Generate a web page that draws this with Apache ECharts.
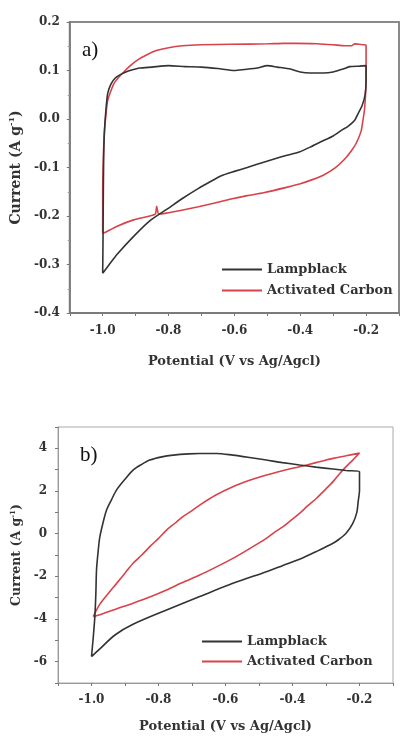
<!DOCTYPE html>
<html>
<head>
<meta charset="utf-8">
<script src="https://cdn.jsdelivr.net/npm/echarts@6/dist/echarts.min.js"></script>
<style>
html,body{margin:0;padding:0;background:#fff;}
#chart{width:402px;height:736px;}
</style>
</head>
<body>
<div id="chart"></div>
<script>
// ---- Data (panel a) ----
const seriesNames = ['Lampblack', 'Activated Carbon'];
const lampblackA = [
  [-1.0,-0.318],[-0.999,-0.25],[-0.998,-0.15],[-0.997,-0.08],[-0.995,-0.03],[-0.99,0.02],[-0.985,0.052],
  [-0.975,0.072],[-0.961,0.085],[-0.945,0.092],[-0.926,0.098],[-0.9,0.103],[-0.887,0.105],[-0.85,0.107],
  [-0.8,0.11],[-0.75,0.108],[-0.7,0.107],[-0.65,0.104],[-0.6,0.1],[-0.57,0.102],[-0.53,0.105],[-0.5,0.11],
  [-0.47,0.107],[-0.43,0.103],[-0.4,0.097],[-0.37,0.095],[-0.33,0.095],[-0.3,0.097],[-0.27,0.103],
  [-0.25,0.108],[-0.22,0.109],[-0.2,0.11],[-0.2,0.08],[-0.203,0.05],[-0.212,0.028],[-0.225,0.01],
  [-0.235,-0.003],[-0.255,-0.015],[-0.274,-0.023],[-0.3,-0.035],[-0.334,-0.046],[-0.37,-0.058],
  [-0.403,-0.068],[-0.43,-0.073],[-0.462,-0.079],[-0.511,-0.089],[-0.561,-0.1],[-0.6,-0.108],
  [-0.64,-0.117],[-0.68,-0.132],[-0.709,-0.143],[-0.758,-0.164],[-0.807,-0.187],[-0.857,-0.21],
  [-0.906,-0.242],[-0.956,-0.279],[-0.98,-0.3],[-1.0,-0.318]
];
const carbonA = [
  [-1.0,-0.236],[-1.0,-0.15],[-0.998,-0.08],[-0.995,-0.03],[-0.99,0.01],[-0.985,0.038],[-0.975,0.058],
  [-0.966,0.073],[-0.95,0.087],[-0.936,0.097],[-0.916,0.11],[-0.896,0.121],[-0.87,0.131],[-0.837,0.141],
  [-0.8,0.147],[-0.758,0.151],[-0.7,0.153],[-0.61,0.154],[-0.5,0.155],[-0.45,0.156],[-0.41,0.156],
  [-0.35,0.155],[-0.3,0.153],[-0.264,0.151],[-0.245,0.151],[-0.234,0.155],[-0.222,0.154],[-0.205,0.153],
  [-0.2,0.152],[-0.2,0.1],[-0.201,0.06],[-0.203,0.035],[-0.205,0.018],[-0.21,-0.005],[-0.215,-0.025],
  [-0.23,-0.05],[-0.244,-0.065],[-0.264,-0.082],[-0.294,-0.101],[-0.33,-0.116],[-0.363,-0.125],
  [-0.402,-0.134],[-0.442,-0.141],[-0.511,-0.152],[-0.561,-0.158],[-0.61,-0.165],[-0.709,-0.181],
  [-0.76,-0.188],[-0.807,-0.194],[-0.83,-0.196],[-0.836,-0.18],[-0.84,-0.196],[-0.857,-0.2],
  [-0.906,-0.208],[-0.956,-0.221],[-0.99,-0.233],[-1.0,-0.236]
];
// ---- Data (panel b) ----
const lampblackB = [
  [-1.0,-5.76],[-0.995,-4.9],[-0.99,-3.89],[-0.987,-2.8],[-0.985,-1.7],[-0.98,-0.8],[-0.975,-0.14],
  [-0.965,0.55],[-0.955,1.11],[-0.94,1.6],[-0.925,2.05],[-0.9,2.55],[-0.876,2.98],[-0.85,3.25],
  [-0.826,3.45],[-0.79,3.6],[-0.756,3.68],[-0.71,3.74],[-0.677,3.76],[-0.627,3.76],[-0.578,3.68],
  [-0.528,3.57],[-0.478,3.45],[-0.43,3.33],[-0.379,3.22],[-0.33,3.12],[-0.279,3.03],[-0.24,2.96],
  [-0.2,2.9],[-0.2,2.5],[-0.2,2.05],[-0.204,1.5],[-0.208,1.0],[-0.22,0.48],[-0.24,0.02],[-0.26,-0.25],
  [-0.279,-0.45],[-0.329,-0.84],[-0.379,-1.2],[-0.43,-1.5],[-0.478,-1.78],[-0.578,-2.33],[-0.677,-2.95],
  [-0.776,-3.58],[-0.876,-4.25],[-0.93,-4.75],[-0.975,-5.4],[-1.0,-5.76]
];
const carbonB = [
  [-0.995,-3.89],[-0.975,-3.3],[-0.95,-2.8],[-0.925,-2.33],[-0.9,-1.85],[-0.876,-1.39],[-0.85,-1.0],
  [-0.826,-0.61],[-0.8,-0.22],[-0.776,0.17],[-0.75,0.5],[-0.727,0.8],[-0.7,1.08],[-0.677,1.34],
  [-0.63,1.8],[-0.578,2.2],[-0.528,2.5],[-0.478,2.75],[-0.43,2.95],[-0.379,3.14],[-0.33,3.33],
  [-0.279,3.53],[-0.24,3.65],[-0.2,3.78],[-0.22,3.45],[-0.24,3.14],[-0.26,2.8],[-0.279,2.44],
  [-0.3,2.1],[-0.329,1.65],[-0.355,1.3],[-0.379,0.95],[-0.405,0.62],[-0.428,0.33],[-0.455,0.05],
  [-0.478,-0.22],[-0.53,-0.72],[-0.578,-1.16],[-0.63,-1.58],[-0.677,-1.94],[-0.73,-2.3],[-0.776,-2.64],
  [-0.826,-2.97],[-0.876,-3.26],[-0.93,-3.55],[-0.975,-3.8],[-0.995,-3.89]
];
const xTickLabels = ['-1.0','-0.8','-0.6','-0.4','-0.2'];
const yTickLabelsA = ['0.2','0.1','0.0','-0.1','-0.2','-0.3','-0.4'];
const yTickLabelsB = ['4','2','0','-2','-4','-6'];

const BLACK = '#333333';
const RED = '#d8424a';
const FONT = 'DejaVu Serif';

function xFmt(v){
  const s = v.toFixed(1);
  return xTickLabels.indexOf(s) >= 0 ? s : '';
}
function yFmtA(v){
  const s = v.toFixed(1);
  return yTickLabelsA.indexOf(s) >= 0 ? s : '';
}
function yFmtB(v){
  const s = String(Math.round(v));
  return yTickLabelsB.indexOf(s) >= 0 ? s : '';
}
const labelStyle = {fontFamily: FONT, fontWeight: 'bold', fontSize: 12, color: '#333'};
const nameStyleBase = {fontFamily: FONT, fontWeight: 'bold', color: '#333'};

const chart = echarts.init(document.getElementById('chart'), null, {renderer: 'canvas'});
chart.setOption({
  animation: false,
  backgroundColor: '#fff',
  grid: [
    {left: 68, right: -4, top: 22, bottom: 423, show: true, borderColor: '#8a8a8a', borderWidth: 2, backgroundColor: 'transparent'},
    {left: 58, right: 9, top: 427, bottom: 53, show: true, borderColor: '#aaaaaa', borderWidth: 1, backgroundColor: 'transparent'}
  ],
  legend: [
    {
      orient: 'vertical', left: 217, top: 257, itemWidth: 40, itemHeight: 2, itemGap: 6,
      icon: 'rect', data: seriesNames.map(n => ({name: n})),
      textStyle: {fontFamily: FONT, fontWeight: 'bold', fontSize: 13, color: '#333', lineHeight: 15},
      selectedMode: false
    },
    {
      orient: 'vertical', left: 197, top: 629, itemWidth: 40, itemHeight: 2, itemGap: 5,
      icon: 'rect', data: seriesNames.map(n => ({name: n + ' '})),
      textStyle: {fontFamily: FONT, fontWeight: 'bold', fontSize: 13, color: '#333', lineHeight: 15},
      selectedMode: false
    }
  ],
  xAxis: [
    {
      type: 'value', gridIndex: 0, min: -1.1, max: -0.1, interval: 0.1,
      splitLine: {show: false},
      axisLine: {show: true, onZero: false, lineStyle: {color: '#777', width: 1.5}},
      axisTick: {show: true, length: 3, lineStyle: {color: '#777'}},
      axisLabel: Object.assign({formatter: xFmt, margin: 12, showMinLabel: true, showMaxLabel: true}, labelStyle),
      name: 'Potential (V vs Ag/Agcl)', nameLocation: 'middle', nameGap: 42,
      nameTextStyle: Object.assign({fontSize: 13}, nameStyleBase)
    },
    {
      type: 'value', gridIndex: 1, min: -1.1, max: -0.1, interval: 0.1,
      splitLine: {show: false},
      axisLine: {show: true, onZero: false, lineStyle: {color: '#999', width: 1}},
      axisTick: {show: true, length: 3, lineStyle: {color: '#777'}},
      axisLabel: Object.assign({formatter: xFmt, margin: 11}, labelStyle),
      name: 'Potential (V vs Ag/Agcl)', nameLocation: 'middle', nameGap: 37,
      nameTextStyle: Object.assign({fontSize: 13}, nameStyleBase)
    }
  ],
  yAxis: [
    {
      type: 'value', gridIndex: 0, min: -0.4, max: 0.2, interval: 0.1,
      splitLine: {show: false},
      axisLine: {show: true, onZero: false, lineStyle: {color: '#777', width: 1.5}},
      axisTick: {show: true, length: 3, lineStyle: {color: '#777'}},
      minorTick: {show: true, splitNumber: 2, length: 2, lineStyle: {color: '#999'}},
      axisLabel: Object.assign({formatter: yFmtA, margin: 10}, labelStyle),
      name: 'Current (A g{sup|-1})', nameLocation: 'middle', nameGap: 45, nameRotate: 90,
      nameTextStyle: Object.assign({fontSize: 14, rich: {sup: {fontFamily: FONT, fontWeight: 'bold', fontSize: 8, verticalAlign: 'top', padding: [0,0,8,0], color: '#333'}}}, nameStyleBase)
    },
    {
      type: 'value', gridIndex: 1, min: -7, max: 5, interval: 1,
      splitLine: {show: false},
      axisLine: {show: true, onZero: false, lineStyle: {color: '#999', width: 1}},
      axisTick: {show: true, length: 3, lineStyle: {color: '#777'}},
      axisLabel: Object.assign({formatter: yFmtB, margin: 11}, labelStyle),
      name: 'Current (A g{sup|-1})', nameLocation: 'middle', nameGap: 29, nameRotate: 90,
      nameTextStyle: Object.assign({fontSize: 12.5, rich: {sup: {fontFamily: FONT, fontWeight: 'bold', fontSize: 7, verticalAlign: 'top', padding: [0,0,7,0], color: '#333'}}}, nameStyleBase)
    }
  ],
  graphic: [
    {type: 'text', left: 82, top: 40, style: {text: 'a)', font: '21px "Liberation Serif"', fill: '#111'}},
    {type: 'text', left: 80, top: 445, style: {text: 'b)', font: '21px "Liberation Serif"', fill: '#111'}}
  ],
  series: [
    {name: seriesNames[0], type: 'line', xAxisIndex: 0, yAxisIndex: 0, data: lampblackA, showSymbol: false, smooth: 0.2, lineStyle: {color: BLACK, width: 1.6}, itemStyle: {color: BLACK}, z: 3},
    {name: seriesNames[1], type: 'line', xAxisIndex: 0, yAxisIndex: 0, data: carbonA, showSymbol: false, smooth: 0.2, lineStyle: {color: RED, width: 1.6}, itemStyle: {color: RED}, z: 2},
    {name: seriesNames[0] + ' ', type: 'line', xAxisIndex: 1, yAxisIndex: 1, data: lampblackB, showSymbol: false, smooth: 0.3, lineStyle: {color: BLACK, width: 1.6}, itemStyle: {color: BLACK}, z: 3},
    {name: seriesNames[1] + ' ', type: 'line', xAxisIndex: 1, yAxisIndex: 1, data: carbonB, showSymbol: false, smooth: 0.3, lineStyle: {color: RED, width: 1.6}, itemStyle: {color: RED}, z: 2}
  ]
});
</script>
</body>
</html>
